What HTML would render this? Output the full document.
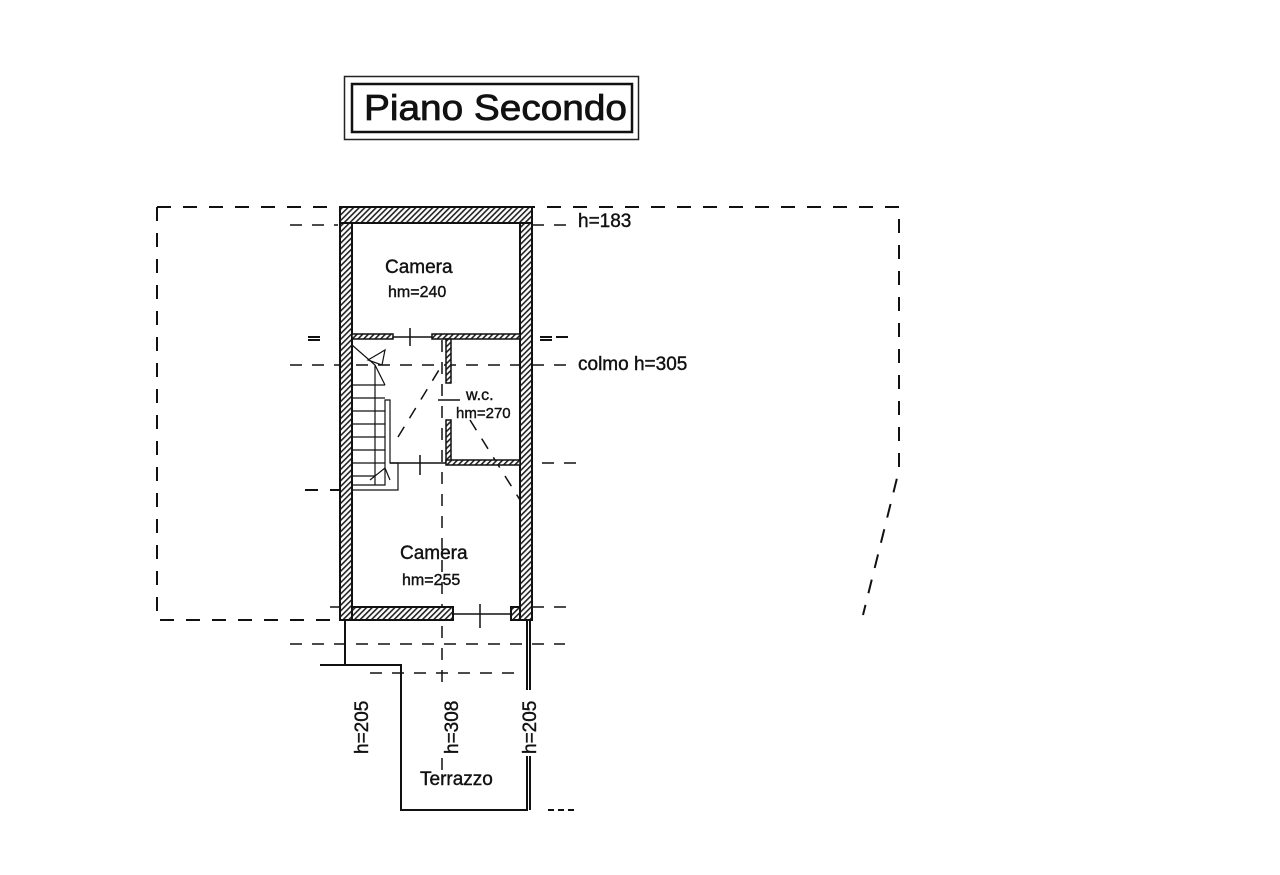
<!DOCTYPE html>
<html><head><meta charset="utf-8"><style>
html,body{margin:0;padding:0;background:#fff;width:1280px;height:875px;overflow:hidden}
svg{display:block}
text{font-family:"Liberation Sans",Arial,sans-serif;fill:#111;stroke:#111;stroke-width:0.4}
</style></head><body>
<svg width="1280" height="875" viewBox="0 0 1280 875" xmlns="http://www.w3.org/2000/svg">
<defs>
<pattern id="h" width="4" height="4" patternUnits="userSpaceOnUse" patternTransform="rotate(45)">
<rect width="4" height="4" fill="#fff"/><rect width="1.6" height="4" fill="#222"/></pattern>
</defs>
<!-- title -->
<rect x="344.5" y="76.5" width="294" height="63" fill="none" stroke="#222" stroke-width="1.5"/>
<rect x="352" y="84" width="280" height="48" fill="none" stroke="#111" stroke-width="2.5"/>
<text x="364" y="120" font-size="36" textLength="263" lengthAdjust="spacingAndGlyphs" style="stroke-width:0.8">Piano Secondo</text>

<!-- dashed outline -->
<g stroke="#111" stroke-width="2" fill="none" stroke-dasharray="14,12">
<path d="M157 207 H899 V470 L863 615"/>
<path d="M157 207 V620 H340"/>
</g>
<g stroke="#111" stroke-width="1.5" fill="none" stroke-dasharray="12,10">
<path d="M290 225 H338"/><path d="M532 225 H575"/>
<path d="M290 365 H575"/>
<path d="M520 463 H580"/>
<path d="M532 607 H570"/>
<path d="M290 644 H565"/>
<path d="M370 673 H520"/>
<path d="M442 340 V770"/>
<path d="M398 437 L442 365"/><path d="M470 420 L520 500"/>
<path d="M330 607 H340"/>
</g>
<g stroke="#111" stroke-width="2">
<path d="M308 337 H320 M308 340 H320 M540 337 H552 M556 337 H568 M540 340 H552"/>
<path d="M305 490 H318 M330 490 H340"/>
</g>

<!-- walls -->
<rect x="340" y="207" width="192" height="16" fill="url(#h)" stroke="#111" stroke-width="2"/>
<rect x="340" y="223" width="12" height="397" fill="url(#h)" stroke="#111" stroke-width="2"/>
<rect x="520" y="223" width="12" height="397" fill="url(#h)" stroke="#111" stroke-width="2"/>
<rect x="352" y="607" width="101" height="13" fill="url(#h)" stroke="#111" stroke-width="2"/>
<rect x="511" y="607" width="9" height="13" fill="url(#h)" stroke="#111" stroke-width="2"/>
<path d="M453 614 H511 M480 604 V628" stroke="#111" stroke-width="1.5"/>
<!-- interior -->
<rect x="352" y="334" width="41" height="5" fill="url(#h)" stroke="#111" stroke-width="1.5"/>
<rect x="432" y="334" width="88" height="5" fill="url(#h)" stroke="#111" stroke-width="1.5"/>
<path d="M393 337 H432 M410 328 V346" stroke="#111" stroke-width="1.5"/>
<rect x="446" y="339" width="5" height="44" fill="url(#h)" stroke="#111" stroke-width="1.5"/>
<rect x="446" y="420" width="5" height="43" fill="url(#h)" stroke="#111" stroke-width="1.5"/>
<path d="M438 400 H460" stroke="#111" stroke-width="1.5"/>
<rect x="446" y="460" width="74" height="5" fill="url(#h)" stroke="#111" stroke-width="1.5"/>
<path d="M390 463 H446 M420 455 V475" stroke="#111" stroke-width="1.5"/>
<!-- stair -->
<g stroke="#111" stroke-width="1.2" fill="none">
<path d="M352 490 H398 V463 H390 V400 H385 V485 H352"/>
<path d="M352 345 L375 365 L385 385"/>
<path d="M375 365 V400 M375 400 V485"/>
<path d="M352 385 H385 M352 398 H385 M352 411 H385 M352 424 H385 M352 437 H385 M352 450 H385 M352 463 H385 M352 476 H375"/>
<path d="M368 360 L385 350 L382 365 Z"/>
<path d="M370 480 L385 468 L390 480"/>
</g>
<!-- terrace -->
<g stroke="#111" stroke-width="2" fill="none">
<path d="M345 620 V665 M320 665 H401 V810 H528"/>
<path d="M530 620 V810 M527 620 V810"/>
<path d="M548 810 H578" stroke-dasharray="6,4"/>
</g>
<rect x="350" y="690" width="22" height="66" fill="#fff"/>
<rect x="440" y="690" width="22" height="66" fill="#fff"/>
<rect x="518" y="690" width="22" height="66" fill="#fff"/>
<!-- labels -->
<text x="385" y="273" font-size="19">Camera</text>
<text x="388" y="297" font-size="16">hm=240</text>
<text x="466" y="400" font-size="16">w.c.</text>
<text x="456" y="418" font-size="15">hm=270</text>
<text x="400" y="559" font-size="19">Camera</text>
<text x="402" y="585" font-size="16">hm=255</text>
<text x="578" y="227" font-size="19">h=183</text>
<text x="578" y="370" font-size="19">colmo h=305</text>
<text x="420" y="785" font-size="19">Terrazzo</text>
<text transform="translate(368,754) rotate(-90)" font-size="19">h=205</text>
<text transform="translate(458,754) rotate(-90)" font-size="19">h=308</text>
<text transform="translate(536,754) rotate(-90)" font-size="19">h=205</text>
</svg>
</body></html>
